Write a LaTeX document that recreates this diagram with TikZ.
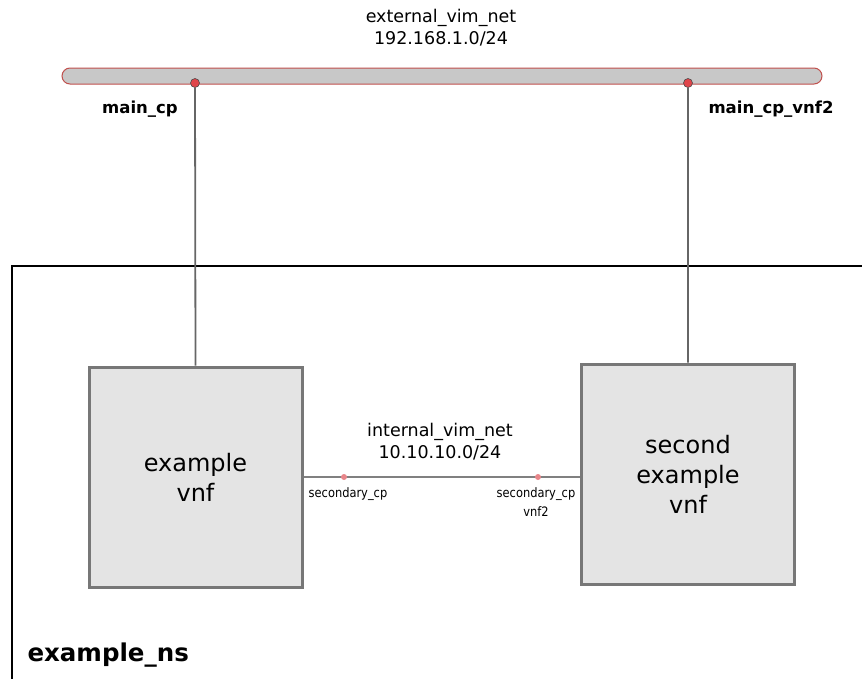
\documentclass[tikz,border=0pt]{standalone}
\usepackage{fontspec}
\setmainfont{DejaVu Sans}
\newfontfamily\narrowfont[FakeStretch=0.88]{DejaVu Sans}
\usetikzlibrary{positioning}

\definecolor{netred}{HTML}{C0504D}
\definecolor{netgray}{HTML}{C8C8C8}
\definecolor{vnffill}{HTML}{E4E4E4}
\definecolor{vnfline}{HTML}{777777}
\definecolor{cpred}{HTML}{E0454A}
\definecolor{cppink}{HTML}{E8868A}

\begin{document}
\begin{tikzpicture}[x=1pt, y=-1pt,
    vnf/.style={draw=vnfline, line width=3pt, fill=vnffill, minimum width=213pt,
                minimum height=220pt, align=center, font=\fontsize{24}{30}\selectfont},
    cpdot/.style={circle, draw=black!70, fill=cpred, line width=0.6pt, inner sep=0pt, minimum size=9pt},
    secdot/.style={circle, fill=cppink, inner sep=0pt, minimum size=6pt},
    link/.style={draw=black!60, line width=1.8pt},
    netlabel/.style={align=center, font=\fontsize{17.5}{22}\selectfont},
    cplabel/.style={font=\bfseries\fontsize{16.5}{20}\selectfont},
    seclabel/.style={align=center, font=\narrowfont\fontsize{13}{18.5}\selectfont}]

    \useasboundingbox (0,0) rectangle (862,678);

    % namespace box, open to the right and bottom
    \draw[line width=2pt] (870,266) -- (12,266) -- (12,690);
    \node[font=\bfseries\fontsize{24.5}{28}\selectfont, anchor=west] (ns) at (24,655) {example\_ns};

    % external network
    \node[draw=netred, fill=netgray, line width=1pt, rounded corners=8pt,
          minimum width=760pt, minimum height=16pt, inner sep=0pt] (extnet) at (442,76) {};
    \node[netlabel] (extlabel) at (441,28) {external\_vim\_net\\192.168.1.0/24};

    % vnfs
    \node[vnf] (vnfa) at (195.5,477) {example\\vnf};
    \node[vnf] (vnfb) at (688,474) {second\\example\\vnf};

    % connection points
    \node[cpdot] (maincp) at (195,83) {};
    \node[cpdot] (maincpvnf2) at (688,83) {};
    \node[cplabel] (maincplabel) at (140,109) {main\_cp};
    \node[cplabel] (maincpvnf2label) at (771,109) {main\_cp\_vnf2};

    \path[link]
      (maincp) -- (vnfa.north)
      (maincpvnf2) -- (vnfb.north);

    % internal network
    \draw[draw=black!50, line width=1.2pt] (vnfa.east) -- (vnfa.east -| vnfb.west);
    \node[secdot] (seccp) at (344,477) {};
    \node[secdot] (seccpvnf2) at (538,477) {};
    \node[netlabel] (intlabel) at (440,442) {internal\_vim\_net\\10.10.10.0/24};
    \node[seclabel, below=4pt of seccp, xshift=4pt] (seccplabel) {secondary\_cp};
    \node[seclabel, below=4pt of seccpvnf2, xshift=-2pt] (seccpvnf2label) {secondary\_cp\\vnf2};
\end{tikzpicture}
\end{document}
